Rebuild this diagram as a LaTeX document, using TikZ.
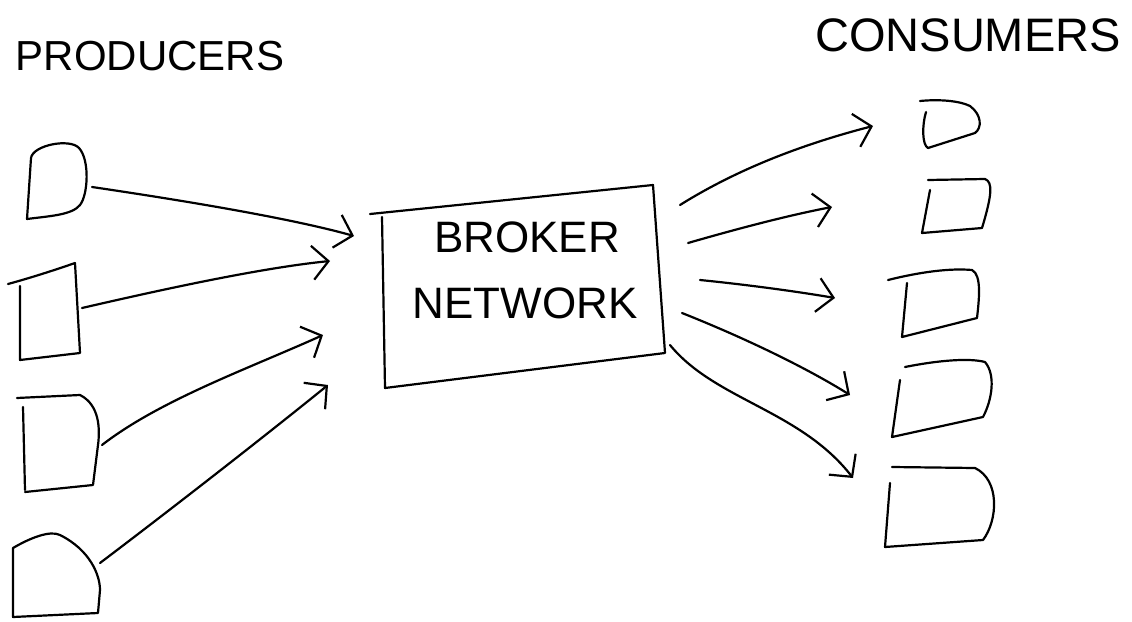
\documentclass[tikz,border=0pt]{standalone}
\usepackage{fontspec}
\setmainfont{Liberation Sans}
\usetikzlibrary{arrows.meta}
\tikzset{
  pen/.style={line width=2.2pt, line cap=round, line join=round, black},
  flow/.style={pen, -{Straight Barb[length=16pt,width=34pt,line width=2.2pt]}},
  title/.style={inner sep=0pt},
  boxtext/.style={font=\fontsize{44}{44}\selectfont, inner sep=0pt}
}
\begin{document}
\begin{tikzpicture}[x=1pt,y=-1pt]
\useasboundingbox (0,0) rectangle (1132,621);
% titles
\node[title, font=\fontsize{42}{42}\selectfont] (prodtitle) at (150,56) {PRODUCERS};
\node[title, font=\fontsize{47}{47}\selectfont] (constitle) at (968,35) {CONSUMERS};
% broker box
\draw[pen] (370,214) -- (653,185) -- (665,353) -- (385,388) -- (382,217);
\node[boxtext] (broker) at (527,237) {BROKER};
\node[boxtext] (network) at (525,303) {NETWORK};
% producers
\draw[pen] (27,219) -- (31,158) .. controls (33,145) and (70,138) .. (79,148)
  .. controls (90,160) and (88,195) .. (80,205) .. controls (72,215) and (50,216) .. cycle;
\draw[pen] (8,284) .. controls (30,278) and (55,270) .. (75,263) -- (80,353) -- (20,360) -- (20,286);
\draw[pen] (17,398) -- (80,395) .. controls (100,405) and (100,430) .. (98,445) -- (93,485) -- (25,492);
\draw[pen] (23,407) -- (25,490);
\draw[pen] (13,617) -- (13,548) .. controls (30,538) and (50,530) .. (60,535)
  .. controls (90,550) and (100,575) .. (100,590) -- (98,613) -- cycle;
% consumers
\draw[pen] (920,101) .. controls (940,99) and (960,101) .. (970,106)
  .. controls (982,115) and (982,128) .. (975,133) -- (928,148)
  .. controls (922,145) and (922,125) .. (926,112);
\draw[pen] (928,180) -- (985,179) .. controls (993,182) and (992,195) .. (982,228) -- (922,233) -- (930,190);
\draw[pen] (888,280) .. controls (920,272) and (950,268) .. (972,270)
  .. controls (982,275) and (979,300) .. (977,318) -- (902,337) -- (907,283);
\draw[pen] (905,367) .. controls (940,360) and (970,358) .. (985,362)
  .. controls (996,375) and (992,400) .. (983,417) -- (892,437) -- (900,380);
\draw[pen] (892,467) -- (975,468) .. controls (1000,480) and (998,520) .. (983,540) -- (885,547) -- (890,483);
% connector end points
\coordinate (p1) at (92,187);
\coordinate (p2) at (82,308);
\coordinate (p3) at (102,445);
\coordinate (p4) at (100,563);
\coordinate (b1) at (354,236);
\coordinate (b2) at (330,261);
\coordinate (b3) at (323,335);
\coordinate (b4) at (328,385);
\coordinate (b5) at (680,205);
\coordinate (b6) at (688,243);
\coordinate (b7) at (700,280);
\coordinate (b8) at (682,313);
\coordinate (b9) at (670,345);
\coordinate (c1) at (873,126);
\coordinate (c2) at (832,207);
\coordinate (c3) at (835,298);
\coordinate (c4) at (850,395);
\coordinate (c5) at (853,478);
% connectors
\draw[flow] (p1) .. controls (180,200) and (290,218) .. (b1);
\draw[flow] (p2) .. controls (160,290) and (260,268) .. (b2);
\draw[flow] (p3) .. controls (160,400) and (250,368) .. (b3);
\draw[flow] (p4) .. controls (170,510) and (260,440) .. (b4);
\draw[flow] (b5) .. controls (720,180) and (780,150) .. (c1);
\draw[flow] (b6) .. controls (740,228) and (790,215) .. (c2);
\draw[flow] (b7) .. controls (750,285) and (800,292) .. (c3);
\draw[flow] (b8) .. controls (750,340) and (810,370) .. (c4);
\draw[flow] (b9) .. controls (715,400) and (800,410) .. (c5);
\end{tikzpicture}
\end{document}
